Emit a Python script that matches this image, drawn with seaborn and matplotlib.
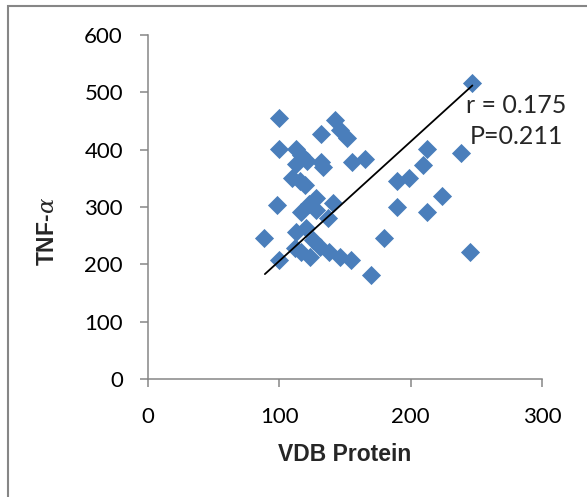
import matplotlib
matplotlib.use("Agg")
import matplotlib.pyplot as plt
import seaborn as sns
import pandas as pd
from matplotlib.patches import Rectangle

vdb_protein = [247, 99.6, 142.5, 146.5, 151.5, 131.8, 99.8, 112.5, 116.5, 121,
               113, 131.5, 133, 155.5, 165, 212.5, 238, 209.5, 189.5, 199,
               110, 115.5, 119.5, 223.5, 98, 128, 141, 116.5, 128, 137,
               189.5, 212.5, 88.5, 113, 120, 126, 179.5, 245, 116.5, 123,
               131, 138, 146, 154.5, 100, 169.5, 112, 122.5]
tnf_alpha = [516, 456, 452, 435, 421, 428, 401, 401, 390, 380,
             375, 378, 370, 379, 383, 402, 395, 373, 346, 351,
             350, 346, 339, 320, 304, 315, 307, 292, 295, 281,
             300, 291, 246, 257, 263, 242, 246, 222, 222, 213,
             231, 222, 213, 207, 207, 182, 228, 305]

trend_x = [89, 247]
trend_y = [183, 512]

x_ticks = [0, 100, 200, 300]
y_ticks = [0, 100, 200, 300, 400, 500, 600]
x_label = "VDB Protein"
y_label = r"TNF-$\alpha$"
stats_text = "r = 0.175\nP=0.211"

sns.set_theme(style="white")
plt.rcParams["font.family"] = ["Lato", "DejaVu Sans"]
plt.rcParams["mathtext.fontset"] = "dejavuserif"

W, H = 587, 497
fig = plt.figure(figsize=(W / 100, H / 100), dpi=100)
ax = fig.add_axes([148 / W, 1 - 379 / H, (542 - 148) / W, (379 - 35) / H])

df = pd.DataFrame({"x": vdb_protein, "y": tnf_alpha})
sns.scatterplot(data=df, x="x", y="y", marker="D", s=95, color="#4A7EBB",
                linewidth=0, ax=ax, zorder=2)
sns.lineplot(x=trend_x, y=trend_y, color="black", linewidth=1.3, ax=ax, zorder=3)

ax.set_xlim(0, 300)
ax.set_ylim(0, 600)
ax.set_xticks(x_ticks)
ax.set_yticks(y_ticks)
ax.tick_params(axis="both", which="major", labelsize=16, colors="#868686",
               labelcolor="black", length=6, width=1.1, direction="out")
ax.tick_params(axis="y", pad=12)
ax.tick_params(axis="x", pad=14)
ax.tick_params(axis="both", left=True, bottom=True)
for side in ["top", "right"]:
    ax.spines[side].set_visible(False)
for side in ["left", "bottom"]:
    ax.spines[side].set_color("#868686")
    ax.spines[side].set_linewidth(1.1)

label_font = dict(fontsize=16.5, fontweight="bold",
                  family=["Liberation Sans", "DejaVu Sans"])
ax.set_xlabel(x_label, labelpad=12, **label_font)
ax.set_ylabel(y_label, **label_font)
ax.yaxis.set_label_coords(-0.225, 0.43)

ax.text(516 / W, 1 - 121 / H, stats_text, transform=fig.transFigure,
        fontsize=18, ha="center", va="center", multialignment="center",
        linespacing=1.4)

fig.add_artist(Rectangle((8 / W, -0.1), 1.2, 1 - 6 / H + 0.1,
                         transform=fig.transFigure, fill=False,
                         edgecolor="#868686", linewidth=1.5))

fig.savefig("out.png", dpi=100)
